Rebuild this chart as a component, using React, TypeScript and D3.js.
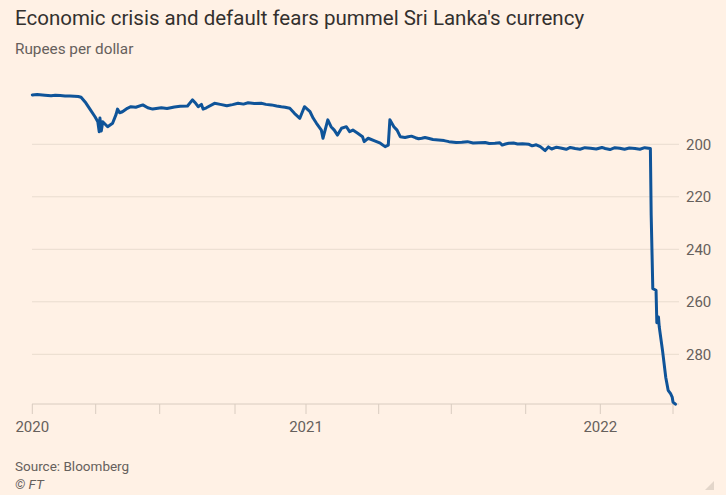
import React from "react";
import * as d3 from "d3";

// ---- data ----
const dates: string[] = [
  "2020-01-01","2020-01-08","2020-01-19","2020-01-28","2020-02-03","2020-02-10","2020-02-17","2020-02-24","2020-03-07","2020-03-11","2020-03-18","2020-03-23","2020-03-31",
  "2020-04-04","2020-04-06","2020-04-07","2020-04-09","2020-04-11","2020-04-18","2020-04-25","2020-04-30","2020-05-02",
  "2020-05-05","2020-05-09","2020-05-16","2020-05-21","2020-05-28","2020-06-07","2020-06-14","2020-06-21",
  "2020-07-03","2020-07-10","2020-07-19","2020-07-26","2020-08-04","2020-08-10","2020-08-14","2020-08-17","2020-08-21","2020-08-23","2020-08-27",
  "2020-09-06","2020-09-13","2020-09-21","2020-09-28",
  "2020-10-05","2020-10-12","2020-10-18","2020-10-26","2020-11-04","2020-11-10","2020-11-17","2020-11-24","2020-11-30","2020-12-05","2020-12-11","2020-12-17","2020-12-24","2020-12-30",
  "2021-01-06","2021-01-10","2021-01-14","2021-01-20","2021-01-22","2021-01-28","2021-02-01","2021-02-05","2021-02-09",
  "2021-02-14","2021-02-20","2021-02-24","2021-02-28","2021-03-06","2021-03-12","2021-03-14","2021-03-19","2021-03-27",
  "2021-04-03","2021-04-09","2021-04-13","2021-04-15","2021-04-20","2021-04-24","2021-04-28","2021-05-04","2021-05-08","2021-05-12","2021-05-17",
  "2021-05-21","2021-05-25","2021-05-29","2021-06-02","2021-06-08","2021-06-15","2021-06-22","2021-06-28",
  "2021-07-07","2021-07-14","2021-07-21","2021-07-28","2021-08-04","2021-08-12","2021-08-17","2021-08-24","2021-08-30","2021-09-02","2021-09-06","2021-09-10","2021-09-16","2021-09-21","2021-09-27",
  "2021-10-05","2021-10-09","2021-10-14","2021-10-19","2021-10-25","2021-10-29","2021-11-02","2021-11-08","2021-11-13","2021-11-20","2021-11-25","2021-12-01","2021-12-07","2021-12-13","2021-12-20","2021-12-27",
  "2022-01-03","2022-01-07","2022-01-13","2022-01-19","2022-01-25","2022-01-31","2022-02-06","2022-02-13","2022-02-19","2022-02-25","2022-03-04","2022-03-05","2022-03-07","2022-03-11","2022-03-12","2022-03-14",
  "2022-03-15","2022-03-19","2022-03-23","2022-03-26","2022-03-29","2022-03-31","2022-04-01","2022-04-04"
];
const rupees: number[] = [
  181.2,181.0,181.3,181.5,181.3,181.45,181.6,181.6,181.8,182.1,184.3,186.3,189.5,
  191.4,195.2,190.0,194.9,191.4,193.3,192.0,188.6,186.6,
  188.0,187.6,186.3,185.7,185.9,185.0,186.1,186.6,
  186.1,186.4,185.8,185.5,185.4,183.1,184.4,185.7,184.8,186.6,186.1,
  184.4,184.8,185.3,184.9,
  184.4,184.7,184.2,184.5,184.4,184.8,185.0,185.4,185.7,185.9,186.3,188.2,190.1,185.7,
  187.6,190.1,192.0,194.6,197.7,190.7,193.3,194.6,196.5,
  193.9,193.3,195.2,194.6,195.8,197.1,199.0,197.7,198.7,
  199.6,200.9,200.3,190.7,193.3,194.6,197.1,197.4,197.1,196.9,197.5,
  197.9,197.7,197.4,197.7,198.2,198.4,198.6,199.0,
  199.3,199.2,199.0,199.5,199.4,199.3,199.7,199.6,199.4,200.3,199.9,199.6,199.5,199.9,199.8,
  200.0,200.6,200.2,200.9,202.4,201.0,201.8,201.1,201.4,201.9,201.2,201.6,201.9,201.3,201.5,201.8,
  201.2,201.6,202.0,201.3,201.5,201.9,201.4,201.6,201.9,201.3,201.6,227.0,255.0,255.6,268.0,265.8,
  269.6,278.5,288.7,293.7,295.0,296.3,298.2,299.0
];
const yTicks: number[] = [200, 220, 240, 260, 280];
const quarterTicks: string[] = [
  "2020-01-01","2020-04-01","2020-07-01","2020-10-01","2021-01-01",
  "2021-04-01","2021-07-01","2021-10-01","2022-01-01","2022-04-01"
];
const yearLabels: string[] = ["2020", "2021", "2022"];

const title = "Economic crisis and default fears pummel Sri Lanka's currency";
const subtitle = "Rupees per dollar";
const source = "Source: Bloomberg";
const credit = "© FT";

export default function App() {
  const W = 726, H = 495;
  const parse = d3.utcParse("%Y-%m-%d");
  const qDates = quarterTicks.map((d) => parse(d) as Date);
  // piecewise time scale (trading-day spacing in the original)
  const x = d3
    .scaleUtc()
    .domain(qDates)
    .range([32.3, 95.7, 159.7, 235, 306, 378.7, 451.3, 525.7, 600.3, 673]);
  const y = d3.scaleLinear().domain([181, 299]).range([94.4, 404.2]);
  const plotLeft = 32, plotRight = 679, axisY = 404;

  const data = dates
    .map((d, i) => ({ date: parse(d) as Date, v: rupees[i] }))
    .sort((a, b) => +a.date - +b.date);
  const line = d3
    .line<{ date: Date; v: number }>()
    .x((d) => x(d.date))
    .y((d) => y(d.v))
    .curve(d3.curveLinear);

  const font = "Roboto, 'Noto Sans', sans-serif";
  return (
    <svg
      width={W}
      height={H}
      style={{ position: "absolute", left: 0, top: 0, display: "block" }}
    >
      <rect x={0} y={0} width={W} height={H} fill="#fff1e5" />
      <text x={15} y={25} fontFamily={font} fontSize={20.5} fill="#33302e">
        {title}
      </text>
      <text x={15} y={54} fontFamily={font} fontSize={15.3} fill="#66605c">
        {subtitle}
      </text>
      {yTicks.map((t) => (
        <g key={t}>
          <line x1={plotLeft} x2={plotRight} y1={y(t)} y2={y(t)} stroke="#e9dccf" strokeWidth={1} />
          <text x={686} y={y(t)} dy="0.35em" fontFamily={font} fontSize={15} fill="#66605c">
            {t}
          </text>
        </g>
      ))}
      <line x1={plotLeft} x2={plotRight} y1={axisY} y2={axisY} stroke="#d9ccc0" strokeWidth={1} />
      {qDates.map((d, i) => (
        <line
          key={i}
          x1={x(d)}
          x2={x(d)}
          y1={axisY}
          y2={axisY + 10}
          stroke="#d9ccc0"
          strokeWidth={1}
        />
      ))}
      {yearLabels.map((yl) => (
        <text
          key={yl}
          x={x(parse(yl + "-01-01") as Date)}
          y={432}
          textAnchor="middle"
          fontFamily={font}
          fontSize={15}
          fill="#66605c"
        >
          {yl}
        </text>
      ))}
      <path
        d={line(data) || ""}
        fill="none"
        stroke="#0f5499"
        strokeWidth={3}
        strokeLinejoin="round"
        strokeLinecap="round"
      />
      <text x={15} y={471} fontFamily={font} fontSize={13.5} fill="#66605c">
        {source}
      </text>
      <text x={15} y={489} fontFamily={font} fontSize={13.5} fontStyle="italic" fill="#66605c">
        {credit}
      </text>
      <path d="M714,481 L714,490 L705,490 Z" fill="#e3d6ca" />
    </svg>
  );
}
